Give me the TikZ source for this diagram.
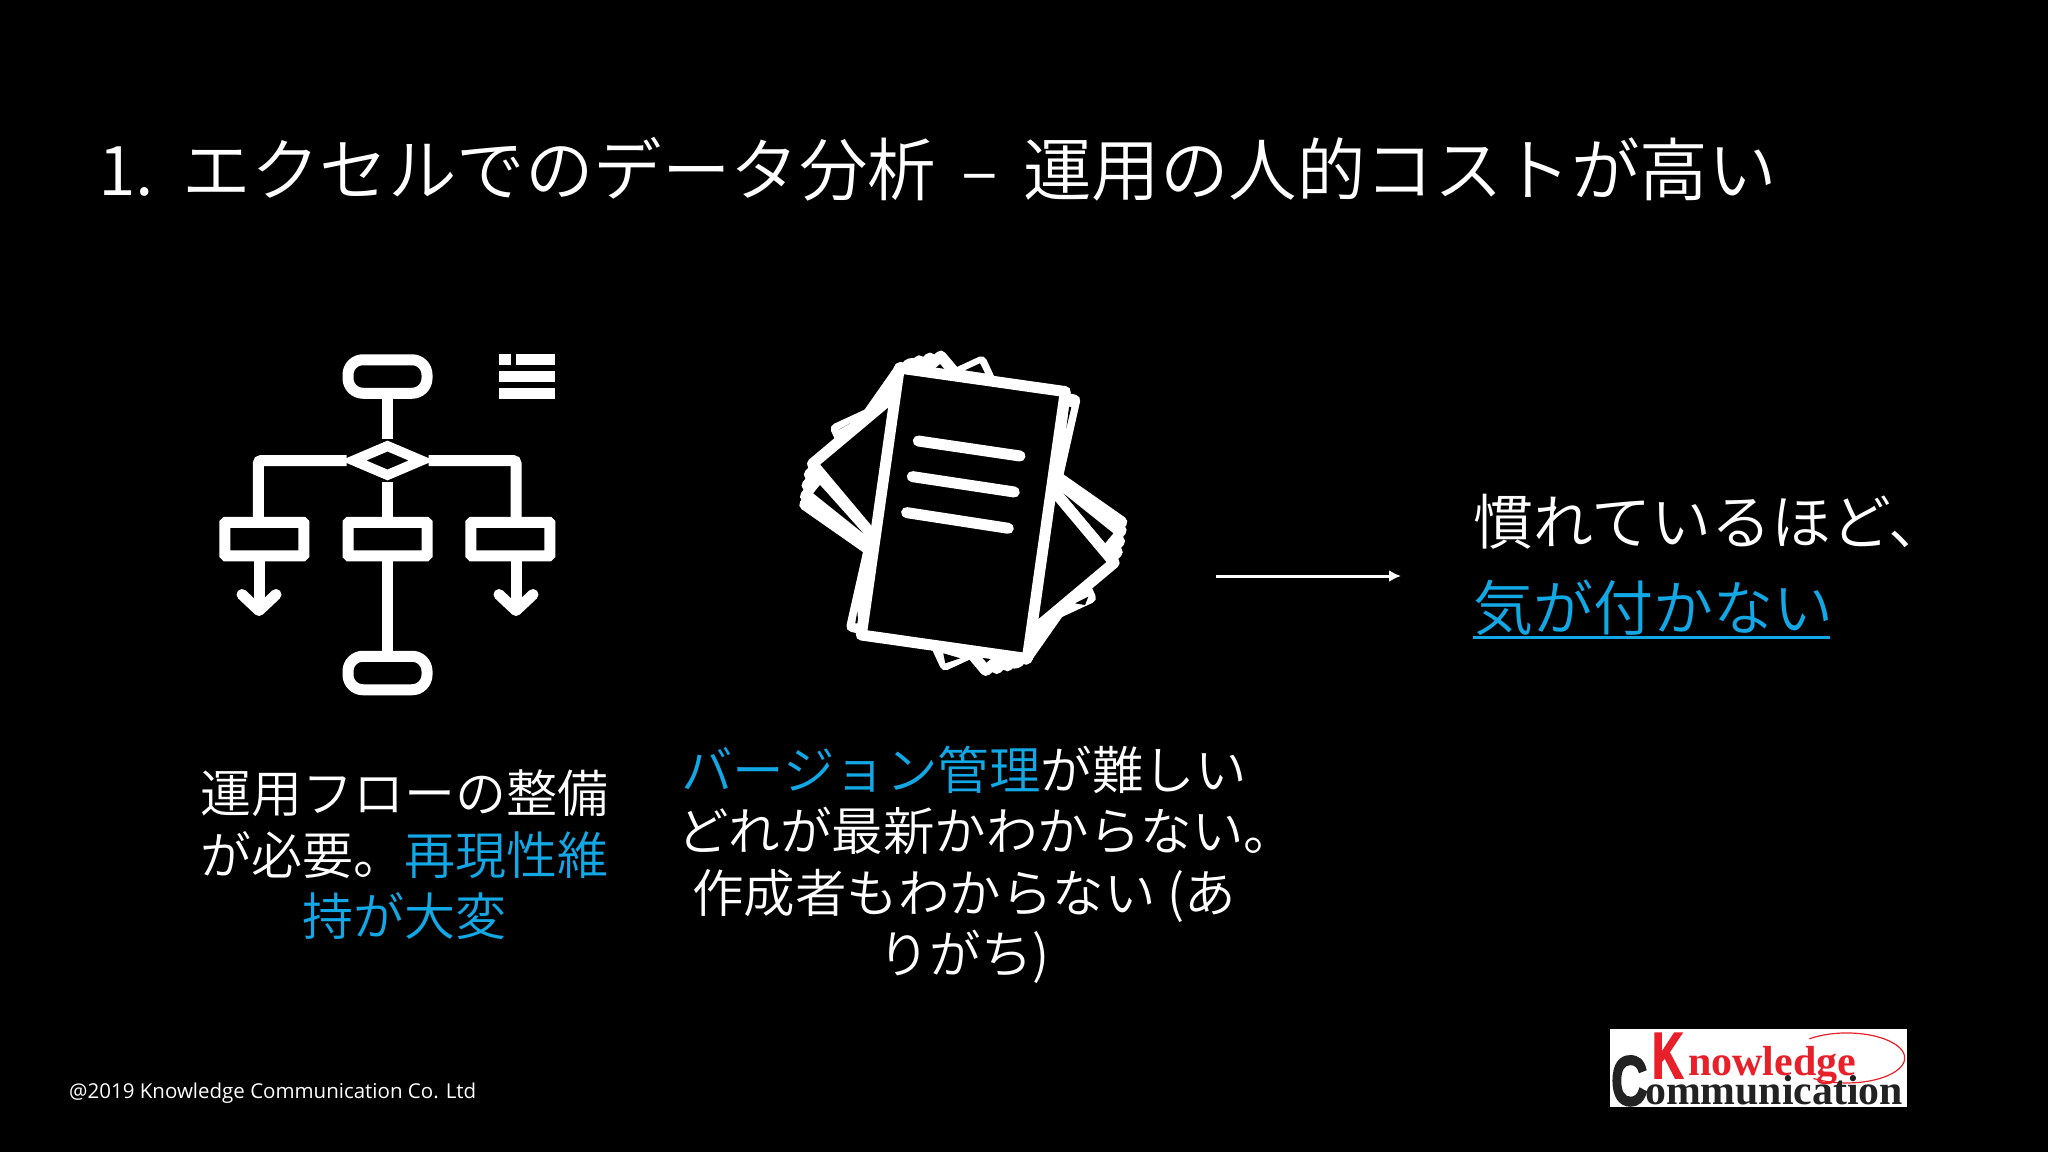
\documentclass[tikz,border=0pt]{standalone}
\usepackage{fontspec}
\setmainfont{Noto Sans CJK JP DemiLight}
\newfontfamily\footfont{Open Sans}
\newfontfamily\logofont{Liberation Serif}
\newfontfamily\logohead[BoldFeatures={FakeBold=3}]{Liberation Sans}
\usetikzlibrary{positioning}
\usetikzlibrary{arrows.meta}
\usetikzlibrary{shapes.geometric}
\definecolor{accent}{HTML}{12A8E6}
\definecolor{logored}{HTML}{E8202A}
\definecolor{logoblack}{HTML}{222222}
\tikzset{
  flowline/.style={white,line width=11pt},
  flowarrow/.style={flowline,-{Straight Barb[round,length=16pt,width=34pt]}},
  pillbox/.style={draw=white,fill=black,line width=11pt,rounded corners=15pt,minimum width=79pt,minimum height=33.5pt,inner sep=0pt},
  stepbox/.style={draw=white,fill=black,line width=11pt,rounded corners=1pt,minimum width=79pt,minimum height=33.5pt,inner sep=0pt},
  choice/.style={draw=white,fill=black,line width=10pt,diamond,minimum width=72pt,minimum height=33pt,inner sep=0pt},
  listbar/.style={fill=white},
  sheet/.style={draw=white,line width=11pt,line join=round},
  sheetline/.style={white,line width=11pt,line cap=round},
  slide/.style={text=white,inner sep=0pt,align=center},
  logotext/.style={anchor=base west,inner sep=0pt,text depth=0pt},
}
\begin{document}
\begin{tikzpicture}[x=1pt,y=-1pt]

  \useasboundingbox (0,0) rectangle (2048,1152);
  \fill[black] (0,0) rectangle (2048,1152);

  % heading
  \node[slide,anchor=base west,font=\fontsize{68.5}{68.5}\selectfont] (heading) at (98,195)
    {1.\hspace{8pt} エクセルでのデータ分析\hspace{10pt} – \hspace{10pt}運用の人的コストが高い};

  % flow chart icon
  \node[pillbox] (begin) at (387.5,376.5) {};
  \node[choice] (decide) at (387.5,460.5) {};
  \node[stepbox] (stepa) at (264.3,539) {};
  \node[stepbox] (stepb) at (387.5,539) {};
  \node[stepbox] (stepc) at (510.3,539) {};
  \node[pillbox] (finish) at (387.5,673) {};
  \coordinate (turna) at (258.3,517);
  \coordinate (turnc) at (516,517);
  \coordinate (leavea) at (259,561);
  \coordinate (leavec) at (516,561);
  \coordinate (enda) at (259,616);
  \coordinate (endc) at (516,616);

  \draw[flowline] (begin) -- (decide);
  \draw[flowline] (decide) -- (stepb);
  \draw[flowline] (stepb) -- (finish);
  \draw[flowline,rounded corners=3pt] (decide.west) -| (turna);
  \draw[flowline,rounded corners=3pt] (decide.east) -| (turnc);
  \draw[flowarrow] (leavea) -- (enda);
  \draw[flowarrow] (leavec) -- (endc);

  % small list
  \fill[listbar] (499.3,354) rectangle (510.7,365.3);
  \fill[listbar] (516,354) rectangle (555.3,365.3);
  \fill[listbar] (499.3,371) rectangle (555.3,382.3);
  \fill[listbar] (499.3,387.7) rectangle (555.3,399);

  % stack of sheets
  \begin{scope}[shift={(963.3,513.3)}]
    \draw[sheet,fill=white,rotate=24.8] (-80,-130) rectangle (80,130);
    \draw[sheet,fill=white,rotate=-12.7] (-83.85,-134.85) rectangle (83.85,134.85);
    \foreach \tilt in {55,52,48,44} {
      \draw[sheet,fill=white,rotate=\tilt] (-83.85,-134.85) rectangle (83.85,134.85);
    }
    % gaps between sheets
    \fill[black] (1.7,-143) -- (16.7,-150) -- (21.7,-140) -- cycle;
    \fill[black] (-125,-83.3) -- (-113,-90) -- (-122,-85) -- cycle;
    \fill[black] (-18,150) -- (-3,145) -- (-20,140) -- cycle;
    \fill[black] (111.7,90) -- (125,83.3) -- (121.7,91.7) -- cycle;
    \fill[black] (-150,-20) -- (-143.3,-28.3) -- (-100,20) -- cycle;
    \fill[black] (150,20) -- (141.7,30) -- (100,-20) -- cycle;
    \fill[black] (105.7,-106.7) -- (108,-106) -- (103,-85) -- cycle;
    \fill[black] (-106,98) -- (-108,110) -- (-105,110) -- cycle;
    \draw[sheet,fill=black,rotate=40] (-83.85,-134.85) rectangle (83.85,134.85);
    \draw[sheet,fill=black,rotate=-8.1] (-83.85,-134.85) rectangle (83.85,134.85);
    \draw[sheetline] (-45,-72.3) -- (56.7,-57.3);
    \draw[sheetline] (-51,-36.7) -- (51,-21.3);
    \draw[sheetline] (-56.7,-0.7) -- (45,15);
  \end{scope}

  % captions
  \node[slide,font=\fontsize{51}{61.5}\selectfont] (flowtext) at (404,855)
    {運用フローの整備\\が必要。\textcolor{accent}{再現性維}\\\textcolor{accent}{持が大変}};
  \node[slide,font=\fontsize{51.5}{61.5}\selectfont] (sheettext) at (964,865)
    {\textcolor{accent}{バージョン管理}が難しい\\\hspace*{44pt}どれが最新かわからない。\\作成者もわからない (あ\\りがち)};

  % conclusion
  \coordinate (gofrom) at (1216,576);
  \coordinate (goto) at (1401,576);
  \draw[white,line width=3pt,-{Latex[length=12pt,width=12pt]}] (gofrom) -- (goto);
  \node[slide,anchor=base west,font=\fontsize{60}{60}\selectfont] (habit) at (1473,544) {慣れているほど、};
  \node[slide,anchor=base west,font=\fontsize{60}{60}\selectfont,text=accent] (blind) at (1473,630) {気が付かない};
  \draw[accent,line width=3.5pt] (1473,637.5) -- (1830,637.5);

  % footer
  \node[slide,anchor=base west,font=\footfont\fontsize{20.5}{20.5}\selectfont] (copy) at (69,1098)
    {@2019 Knowledge Communication Co. Ltd};

  % logo
  \fill[white] (1610,1029) rectangle (1907,1107);
  \draw[logored,line width=1.2pt] (1809.4,1038.8) arc[start angle=130,end angle=-125,x radius=58pt,y radius=25pt];
  \node[logotext,text=logoblack,font=\logohead\bfseries\fontsize{70}{70}\selectfont,xscale=.72,text height=40pt] (logoc) at (1611,1105) {C};
  \node[logotext,text=logored,font=\logohead\bfseries\fontsize{65}{65}\selectfont,xscale=.66] (logok) at (1652,1078) {K};
  \node[logotext,text=logored,font=\logofont\bfseries\fontsize{42}{42}\selectfont] (logon) at (1688,1075) {nowledge};
  \node[logotext,text=logoblack,font=\logofont\bfseries\fontsize{41.8}{41.8}\selectfont,text height=22pt] (logom) at (1645,1104) {ommunication};

\end{tikzpicture}
\end{document}
